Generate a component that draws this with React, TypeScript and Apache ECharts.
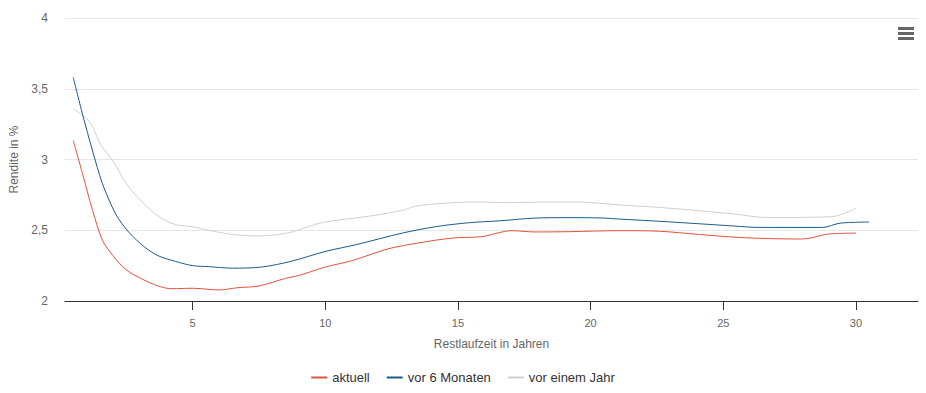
import React, { useEffect, useRef } from "react";
import * as echarts from "echarts";

const seriesNames = ["aktuell", "vor 6 Monaten", "vor einem Jahr"];
const seriesColors = ["#e0533a", "#1b5b8b", "#cfcfcf"];

const aktuell: [number, number][] = [
  [0.5, 3.135], [0.85, 2.9], [1.23, 2.64], [1.6, 2.43], [2.0, 2.32], [2.5, 2.22], [3.1, 2.155],
  [3.7, 2.106], [4.2, 2.087], [5.0, 2.09], [6.0, 2.078], [6.7, 2.094], [7.5, 2.106], [8.5, 2.16],
  [9.0, 2.18], [10.0, 2.24], [11.0, 2.285], [12.4, 2.37], [13.5, 2.41], [14.8, 2.445], [15.9, 2.455],
  [16.6, 2.485], [17.0, 2.497], [17.9, 2.488], [19.2, 2.49], [21.0, 2.497], [22.6, 2.493],
  [24.1, 2.47], [25.8, 2.447], [27.9, 2.438], [28.3, 2.445], [28.9, 2.472], [30.0, 2.48],
];

const vor6Monaten: [number, number][] = [
  [0.5, 3.58], [0.85, 3.32], [1.23, 3.06], [1.6, 2.83], [2.1, 2.615], [2.6, 2.485], [3.2, 2.38],
  [3.7, 2.32], [4.35, 2.28], [5.0, 2.25], [5.6, 2.243], [6.5, 2.232], [7.6, 2.24], [8.7, 2.28],
  [10.0, 2.35], [11.2, 2.4], [12.9, 2.48], [14.15, 2.525], [15.4, 2.553], [16.6, 2.567],
  [17.9, 2.586], [19.2, 2.589], [20.4, 2.587], [21.0, 2.58], [22.9, 2.56], [25.4, 2.53],
  [26.3, 2.52], [28.75, 2.52], [29.4, 2.55], [30.5, 2.558],
];

const vorEinemJahr: [number, number][] = [
  [0.5, 3.36], [1.0, 3.29], [1.23, 3.23], [1.55, 3.1], [2.0, 2.99], [2.5, 2.83], [3.1, 2.7],
  [3.7, 2.6], [4.35, 2.54], [5.0, 2.525], [5.6, 2.5], [6.5, 2.47], [7.5, 2.46], [8.5, 2.477],
  [9.2, 2.515], [9.9, 2.555], [11.66, 2.6], [12.9, 2.64], [13.4, 2.67], [14.4, 2.69],
  [15.65, 2.7], [16.9, 2.695], [18.6, 2.7], [19.5, 2.7], [21.0, 2.68], [22.9, 2.657],
  [25.4, 2.615], [26.6, 2.59], [29.1, 2.596], [30.0, 2.655],
];

const xTicks = [5, 10, 15, 20, 25, 30];
const xMin = 0.19;
const xMax = 32.34;
const yMin = 2;
const yMax = 4;
const yInterval = 0.5;

const FONT = "Arial, 'Liberation Sans', sans-serif";

export default function App() {
  const ref = useRef<HTMLDivElement>(null);
  useEffect(() => {
    if (!ref.current) return;
    const chart = echarts.init(ref.current, undefined, { renderer: "svg" });
    const datasets = [aktuell, vor6Monaten, vorEinemJahr];
    chart.setOption({
      animation: false,
      textStyle: { fontFamily: FONT },
      grid: { left: 61, right: 8, top: 18, bottom: 92 },
      legend: {
        bottom: 4,
        left: "center",
        itemWidth: 16,
        itemHeight: 2,
        itemGap: 17,
        icon: "rect",
        textStyle: { color: "#333", fontSize: 13, fontFamily: FONT },
        data: seriesNames,
      },
      xAxis: {
        type: "value",
        min: xMin,
        max: xMax,
        name: "Restlaufzeit in Jahren",
        nameLocation: "middle",
        nameGap: 37,
        nameTextStyle: { color: "#666", fontSize: 12 },
        axisLine: { show: true, lineStyle: { color: "#333", width: 1 } },
        axisTick: { show: true, customValues: xTicks, length: 9, inside: false, lineStyle: { color: "#333" } },
        axisLabel: { customValues: xTicks, color: "#666", fontSize: 11, margin: 16 },
        splitLine: { show: false },
      },
      yAxis: {
        type: "value",
        min: yMin,
        max: yMax,
        interval: yInterval,
        name: "Rendite in %",
        nameLocation: "middle",
        nameGap: 45,
        nameTextStyle: { color: "#666", fontSize: 12 },
        axisLine: { show: false },
        axisTick: { show: false },
        axisLabel: {
          color: "#666",
          fontSize: 12,
          margin: 17,
          formatter: (v: number) => String(v).replace(".", ","),
        },
        splitLine: { lineStyle: { color: "#e6e6e6" } },
      },
      series: seriesNames.map((n, i) => ({
        name: n,
        type: "line",
        data: datasets[i],
        smooth: 0.3,
        showSymbol: false,
        symbol: "none",
        lineStyle: { color: seriesColors[i], width: 1 },
        itemStyle: { color: seriesColors[i] },
        z: 3 - i,
      })),
      graphic: [
        { type: "rect", shape: { x: 898, y: 27, width: 16, height: 3 }, style: { fill: "#666" } },
        { type: "rect", shape: { x: 898, y: 32, width: 16, height: 3 }, style: { fill: "#666" } },
        { type: "rect", shape: { x: 898, y: 37, width: 16, height: 3 }, style: { fill: "#666" } },
      ],
    });
    return () => chart.dispose();
  }, []);
  return (
    <div
      ref={ref}
      style={{ position: "fixed", left: 0, top: 0, width: 926, height: 393, background: "#fff" }}
    />
  );
}
